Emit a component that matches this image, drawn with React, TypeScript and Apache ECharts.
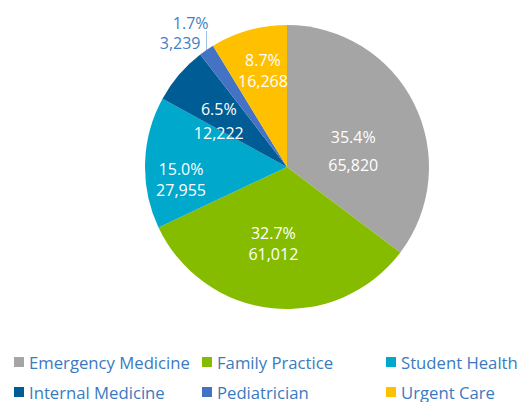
import React, { useEffect, useRef } from "react";
import * as echarts from "echarts";

const categories = [
  "Emergency Medicine",
  "Family Practice",
  "Student Health",
  "Internal Medicine",
  "Pediatrician",
  "Urgent Care",
];
const values = [65820, 61012, 27955, 12222, 3239, 16268];
const percents = ["35.4%", "32.7%", "15.0%", "6.5%", "1.7%", "8.7%"];
const colors = ["#A5A5A5", "#86BC00", "#00A8CC", "#005C94", "#4472C4", "#FFC000"];

// label nudges relative to default inside position (layout only)
const labelShift: [number, number][] = [
  [0, 17],
  [-6, 3],
  [-32, 15],
  [-12, 2],
  [0, 0],
  [-4, -25],
];
const labelLineHeights = [28, 21, 21, 24, 20, 21];

const FONT = "'Open Sans', 'Noto Sans', sans-serif";
const LEGEND_COLOR = "#3A7AC0";

export default function App() {
  const ref = useRef<HTMLDivElement>(null);
  useEffect(() => {
    if (!ref.current) return;
    const chart = echarts.init(ref.current, undefined, { renderer: "svg" });
    const legendPos = [
      { left: 9, top: 348 },
      { left: 197, top: 348 },
      { left: 381, top: 348 },
      { left: 9, top: 378 },
      { left: 197, top: 378 },
      { left: 381, top: 378 },
    ];
    chart.setOption({
      animation: false,
      color: colors,
      legend: categories.map((c, i) => ({
        data: [c],
        left: legendPos[i].left,
        top: legendPos[i].top,
        icon: "rect",
        itemWidth: 10,
        itemHeight: 10,
        textStyle: { fontSize: 16.7, lineHeight: 18, color: LEGEND_COLOR, fontFamily: FONT },
        selectedMode: false,
      })),
      series: [
        {
          type: "pie",
          center: [287, 167],
          radius: 142,
          startAngle: 90,
          clockwise: true,
          avoidLabelOverlap: false,
          label: {
            show: true,
            position: "inside",
            color: "#FFFFFF",
            fontSize: 16,
            lineHeight: 21,
            fontFamily: FONT,
            formatter: (p: any) =>
              percents[p.dataIndex] + "\n" + (p.value as number).toLocaleString("en-US"),
          },
          labelLayout: (p: any) => {
            if (p.dataIndex === 4) {
              const pts = p.labelLinePoints;
              if (!pts || !pts[0]) return {};
              const x0 = pts[0][0];
              const y0 = pts[0][1];
              return {
                x: x0 + 2,
                y: y0 - 17,
                align: "right",
                verticalAlign: "middle",
                labelLinePoints: [
                  [x0, y0],
                  [x0, y0 - 19],
                ],
              };
            }
            const s = labelShift[p.dataIndex];
            return { dx: s[0], dy: s[1] };
          },
          data: categories.map((name, i) => {
            const item: any = { name, value: values[i], label: { lineHeight: labelLineHeights[i] } };
            if (i === 4) {
              item.label = {
                position: "outside",
                color: "#3F7FC4",
                align: "right",
                lineHeight: labelLineHeights[i],
                formatter: (p: any) =>
                  "{a|" + percents[p.dataIndex] + "}\n{b|" + (p.value as number).toLocaleString("en-US") + "}",
                rich: {
                  a: { color: "#3F7FC4", fontSize: 16, fontFamily: FONT, lineHeight: 20 },
                  b: { color: "#3F7FC4", fontSize: 16, fontFamily: FONT, lineHeight: 20, padding: [0, 8, 0, 0] },
                },
              };
              item.labelLine = {
                show: true,
                length: 14,
                length2: 0,
                lineStyle: { color: "#9DC3E6", width: 1 },
              };
            }
            return item;
          }),
        },
      ],
    });
    return () => chart.dispose();
  }, []);
  return (
    <div
      ref={ref}
      style={{ position: "fixed", left: 0, top: 0, width: 530, height: 402, background: "#fff" }}
    />
  );
}
